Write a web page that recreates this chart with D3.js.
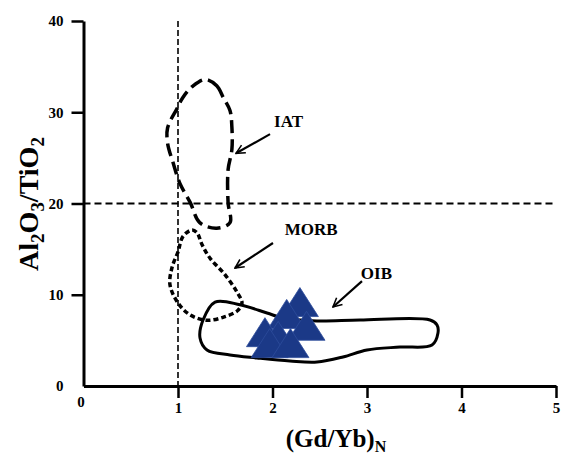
<!DOCTYPE html>
<html>
<head>
<meta charset="utf-8">
<script src="https://cdn.jsdelivr.net/npm/d3@7"></script>
<style>
  html, body { margin: 0; padding: 0; background: #fff; }
  svg { display: block; font-family: "Liberation Serif", "Times New Roman", serif; font-weight: bold; }
</style>
</head>
<body>
<svg id="chart" width="564" height="457"></svg>
<script>
// Tick values
const xTicks = [0, 1, 2, 3, 4, 5];
const yTicks = [0, 10, 20, 30, 40];

// Field outlines, (Gd/Yb)N vs Al2O3/TiO2
const iatField = [
  [1.29, 33.6], [1.41, 32.9], [1.48, 31.6], [1.55, 30.2], [1.57, 28.4], [1.57, 25.9],
  [1.53, 23.7], [1.53, 20.1], [1.55, 17.9], [1.41, 17.3], [1.23, 17.9], [1.13, 20.1],
  [1.02, 22.2], [0.95, 24.4], [0.89, 26.6], [0.89, 28.3], [0.99, 30.4], [1.05, 31.6], [1.16, 32.9]
];
const morbField = [
  [1.148, 17.1], [1.053, 16.4], [1.0, 14.7], [0.937, 13.0], [0.915, 11.1], [1.0, 9.1],
  [1.127, 7.8], [1.307, 7.2], [1.497, 7.6], [1.635, 8.3], [1.677, 9.1], [1.624, 10.3],
  [1.497, 12.2], [1.339, 14.0], [1.254, 15.5], [1.201, 16.8]
];
const oibField = [
  [1.392, 9.2], [1.656, 8.9], [1.942, 8.0], [2.111, 7.45], [2.471, 7.12], [2.926, 7.23],
  [3.667, 7.23], [3.741, 6.68], [3.751, 5.81], [3.688, 4.49], [3.349, 4.27], [3.0, 3.95],
  [2.746, 3.18], [2.471, 2.63], [2.185, 2.74], [1.836, 3.07], [1.55, 3.4], [1.307, 3.95],
  [1.233, 5.26], [1.265, 7.23]
];

// Samples
const sampleGdYb = [2.29, 2.15, 2.36, 1.92, 2.06, 1.97, 2.19];
const sampleAlTi = [9.2, 7.9, 6.6, 5.9, 5.5, 4.7, 4.7];

// Field names and pointers
const fieldNames = ["IAT", "MORB", "OIB"];
const labelAt = [[2.17, 28.4], [2.41, 16.55], [3.10, 11.7]];
const arrowFrom = [[1.974, 27.6], [2.005, 15.67], [2.947, 11.5]];
const arrowTo = [[1.614, 25.5], [1.603, 12.93], [2.64, 8.66]];

const svg = d3.select("#chart");
const x = d3.scaleLinear().domain([0, 5]).range([83.5, 556]);
const y = d3.scaleLinear().domain([0, 40]).range([386, 21]);

// Reference lines
svg.append("line")
  .attr("x1", x(1)).attr("x2", x(1)).attr("y1", y(40)).attr("y2", y(0))
  .attr("stroke", "#000").attr("stroke-width", 1.6).attr("stroke-dasharray", "6,3");
svg.append("line")
  .attr("x1", x(0)).attr("x2", x(5)).attr("y1", y(20)).attr("y2", y(20))
  .attr("stroke", "#000").attr("stroke-width", 2).attr("stroke-dasharray", "7,4");

const outline = d3.line().x(d => x(d[0])).y(d => y(d[1])).curve(d3.curveCatmullRomClosed.alpha(0.5));

svg.append("path").attr("d", outline(iatField))
  .attr("fill", "none").attr("stroke", "#000").attr("stroke-width", 3.5)
  .attr("stroke-dasharray", "13,6");
svg.append("path").attr("d", outline(morbField))
  .attr("fill", "none").attr("stroke", "#000").attr("stroke-width", 3.5)
  .attr("stroke-dasharray", "5,3");
svg.append("path").attr("d", outline(oibField))
  .attr("fill", "none").attr("stroke", "#000").attr("stroke-width", 3);

// Triangles
const triW = 37, triH = 29;
svg.append("g").selectAll("path")
  .data(sampleGdYb.map((g, i) => [g, sampleAlTi[i]]))
  .join("path")
  .attr("d", d => {
    const cx = x(d[0]), cy = y(d[1]);
    return `M${cx},${cy - triH / 2}L${cx + triW / 2},${cy + triH / 2}L${cx - triW / 2},${cy + triH / 2}Z`;
  })
  .attr("fill", "#1b3987").attr("stroke", "#2d4c9c").attr("stroke-width", 0.8);

// Arrows
svg.append("defs").append("marker")
  .attr("id", "head").attr("viewBox", "0 0 10 10").attr("refX", 9).attr("refY", 5)
  .attr("markerWidth", 5).attr("markerHeight", 5).attr("orient", "auto")
  .attr("markerUnits", "strokeWidth")
  .append("path").attr("d", "M1,1L9,5L1,9").attr("fill", "none").attr("stroke", "#000").attr("stroke-width", 1.4);
fieldNames.forEach((n, i) => {
  svg.append("line")
    .attr("x1", x(arrowFrom[i][0])).attr("y1", y(arrowFrom[i][1]))
    .attr("x2", x(arrowTo[i][0])).attr("y2", y(arrowTo[i][1]))
    .attr("stroke", "#000").attr("stroke-width", 2.2).attr("marker-end", "url(#head)");
  svg.append("text")
    .attr("x", x(labelAt[i][0])).attr("y", y(labelAt[i][1]))
    .attr("text-anchor", "middle").attr("font-size", 17).text(n);
});

// Axes
const xAxis = svg.append("g").attr("transform", `translate(0,${y(0)})`)
  .call(d3.axisBottom(x).tickValues(xTicks).tickFormat(d3.format("d"))
    .tickSize(12).tickSizeOuter(0).tickPadding(4));
const yAxis = svg.append("g").attr("transform", `translate(${x(0)},0)`)
  .call(d3.axisLeft(y).tickValues(yTicks).tickFormat(d3.format("d"))
    .tickSize(12).tickSizeOuter(0).tickPadding(8));
[xAxis, yAxis].forEach(a => {
  a.select(".domain").attr("stroke", "#000").attr("stroke-width", 3);
  a.selectAll(".tick line").attr("stroke", "#000").attr("stroke-width", 2.5);
  a.selectAll(".tick text").attr("font-family", "Liberation Serif, serif")
    .attr("font-weight", "bold").attr("font-size", 15).attr("fill", "#000");
  a.attr("font-family", null).attr("font-size", null);
});
xAxis.selectAll(".tick").filter(d => d === 0).select("line").remove();
xAxis.selectAll(".tick").filter(d => d === 0).select("text").attr("x", -3).attr("dy", "0.3em");
yAxis.selectAll(".tick").filter(d => d === 0).select("line").remove();

// Axis titles
const xt = svg.append("text").attr("x", 336).attr("y", 447).attr("text-anchor", "middle").attr("font-size", 25);
xt.append("tspan").text("(Gd/Yb)");
xt.append("tspan").attr("font-size", 16).attr("dy", 5).text("N");

const yt = svg.append("text").attr("transform", "translate(38,204) rotate(-90)")
  .attr("text-anchor", "middle").attr("font-size", 28);
const parts = [["Al", 0], ["2", 1], ["O", 0], ["3", 1], ["/TiO", 0], ["2", 1]];
parts.forEach(([t, sub], i) => {
  const prevSub = i > 0 ? parts[i - 1][1] : 0;
  const shift = sub && !prevSub ? 6 : (!sub && prevSub ? -6 : 0);
  yt.append("tspan").attr("font-size", sub ? 19 : 28).attr("dy", shift).text(t);
});
</script>
</body>
</html>
